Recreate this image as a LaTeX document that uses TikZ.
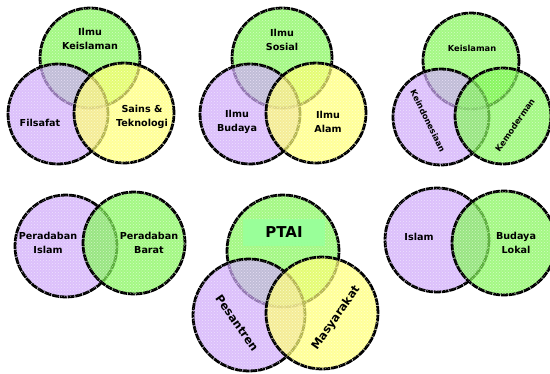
\documentclass[tikz,border=0pt]{standalone}
\usepackage{fontspec}
\setmainfont{DejaVu Sans}
\usetikzlibrary{patterns}
\definecolor{hijau}{RGB}{125,245,80}
\definecolor{ungu}{RGB}{205,165,250}
\definecolor{kuning}{RGB}{255,255,110}
\definecolor{kotak}{RGB}{153,255,153}
\tikzset{lingkar/.style={draw=black,line width=2.8pt,dash pattern=on 7pt off .8pt,fill opacity=.7,
    postaction={pattern=crosshatch dots,pattern color=white,fill opacity=.5}},
  teks/.style={align=center,font=\bfseries\fontsize{9.6}{13.5}\selectfont},
  kecil/.style={font=\bfseries\fontsize{8.3}{10}\selectfont},
  besar/.style={font=\bfseries\fontsize{11.4}{13}\selectfont}}

\begin{document}
\begin{tikzpicture}[x=1pt,y=-1pt]
\useasboundingbox (0,0) rectangle (550,373);
\draw[lingkar,fill=hijau] (90,58) circle[radius=50pt];
\draw[lingkar,fill=ungu] (58,114) circle[radius=50pt];
\draw[lingkar,fill=kuning] (124,113) circle[radius=50pt];
\node[teks] (ik) at (90,39) {Ilmu\\Keislaman};\node[teks] (fs) at (40,123) {Filsafat};
\node[teks] (st) at (142,117) {Sains \&\\Teknologi};
\draw[lingkar,fill=hijau] (282,58) circle[radius=50pt];
\draw[lingkar,fill=ungu] (250,114) circle[radius=50pt];
\draw[lingkar,fill=kuning] (316,113) circle[radius=50pt];
\node[teks] (is) at (282,40) {Ilmu\\Sosial};\node[teks] (ib) at (237,122) {Ilmu\\Budaya};
\node[teks] (ia) at (328,122) {Ilmu\\Alam};
\draw[lingkar,fill=hijau] (471,61) circle[radius=48pt];
\draw[lingkar,fill=ungu] (441,117) circle[radius=48pt];
\draw[lingkar,fill=hijau] (503,116) circle[radius=48pt];
\node[kecil] (kis) at (472,48) {Keislaman};\node[kecil,rotate=-64] (kin) at (428,121) {Keindonesiaan};
\node[kecil,rotate=55] (kmd) at (515,125) {Kemoderman};
\draw[lingkar,fill=ungu] (66,246) circle[radius=51pt];
\draw[lingkar,fill=hijau] (134,243) circle[radius=51pt];
\node[teks] (pi) at (48,243) {Peradaban\\Islam};\node[teks] (pb) at (149,243) {Peradaban\\Barat};
\draw[lingkar,fill=hijau] (283,251) circle[radius=56pt];
\node[fill=kotak,minimum width=82pt,minimum height=27pt,font=\bfseries\fontsize{15}{16}\selectfont] (ptai) at (284,232) {PTAI};
\draw[lingkar,fill=ungu] (249,315) circle[radius=56pt];
\draw[lingkar,fill=kuning] (322,313) circle[radius=56pt];
\node[besar,rotate=-55] (ps) at (237,323) {Pesantren};\node[besar,rotate=55] (my) at (336,318) {Masyarakat};
\draw[lingkar,fill=ungu] (437,240) circle[radius=52pt];
\draw[lingkar,fill=hijau] (504,243) circle[radius=52pt];
\node[teks] (il) at (419,237) {Islam};\node[teks] (bl) at (516,243) {Budaya\\Lokal};
\end{tikzpicture}
\end{document}
